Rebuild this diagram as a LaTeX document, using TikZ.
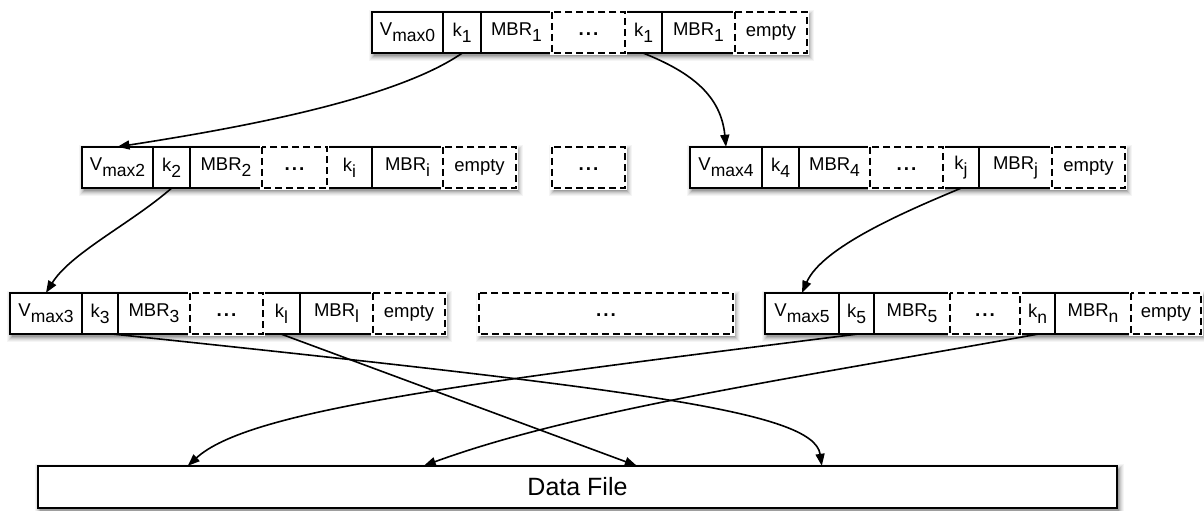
\documentclass[tikz,border=0pt]{standalone}
\usepackage{fontspec}
\setmainfont{Liberation Sans}
\usetikzlibrary{arrows.meta,calc,backgrounds}

% lowered subscript, set in text font
\newcommand{\sbs}[1]{\raisebox{-6pt}{\fontsize{17.5}{17.5}\selectfont #1}}
% placeholder for omitted fields, sitting on the same baseline as the labels
\newcommand{\gap}{{\vphantom{M\sbs{1}}\fontsize{19}{19}\selectfont\bfseries .\kern2pt.\kern2pt.}}

\tikzset{
  x=1pt, y=-1pt,
  cell/.style={inner sep=0pt, minimum height=41pt, fill=white,
               font=\fontsize{18.5}{18.5}\selectfont},
  boxline/.style={draw=black, line width=1.6pt},
  dashpat/.style={dash pattern=on 7pt off 4pt},
  conn/.style={line width=1.6pt, -{Triangle[length=12pt,width=9pt]}},
}

% one cell of a node record: name, left x, right x, top y, text
\newcommand{\cellat}[5]{%
  \node[cell, minimum width={(#3)-(#2)}] (#1) at ({((#2)+(#3))/2},{(#4)+20.5}) {#5};}
% outlines
\newcommand{\solidcell}[1]{\draw[boxline] (#1.north west) rectangle (#1.south east);}
\newcommand{\dashcell}[1]{%
  \draw[white, line width=2.8pt] (#1.north west) rectangle (#1.south east);
  \draw[boxline, dashpat] (#1.north west) rectangle (#1.south east);}
% soft shadow under a run of cells
\newcommand{\softshadow}[2]{%
  \foreach \spread/\shade in {5/0.04,4/0.05,3/0.06,2/0.08,1/0.1,0/0.13}{%
    \fill[black, opacity=\shade] ($(#1.north west)+(2-\spread,3-\spread)$)
      rectangle ($(#2.south east)+(2+\spread,3+\spread)$);}}

\begin{document}
\begin{tikzpicture}
\useasboundingbox (0,0) rectangle (1204,511);

% ---- root record
\cellat{t0}{372}{443}{12}{V\sbs{max0}}
\cellat{t1}{443}{481}{12}{k\sbs{1}}
\cellat{t2}{481}{552}{12}{MBR\sbs{1}}
\cellat{t3}{552}{625}{12}{\gap}
\cellat{t4}{625}{662}{12}{k\sbs{1}}
\cellat{t5}{662}{735}{12}{MBR\sbs{1}}
\cellat{t6}{735}{807}{12}{empty}

% ---- second level
\cellat{a0}{82}{153}{147}{V\sbs{max2}}
\cellat{a1}{153}{190}{147}{k\sbs{2}}
\cellat{a2}{190}{262}{147}{MBR\sbs{2}}
\cellat{a3}{262}{327}{147}{\gap}
\cellat{a4}{327}{372}{147}{k\sbs{i}}
\cellat{a5}{372}{443}{147}{MBR\sbs{i}}
\cellat{a6}{443}{516}{147}{empty}

\cellat{am}{552}{625}{147}{\gap}

\cellat{b0}{690}{762}{147}{V\sbs{max4}}
\cellat{b1}{762}{799}{147}{k\sbs{4}}
\cellat{b2}{799}{870}{147}{MBR\sbs{4}}
\cellat{b3}{870}{943}{147}{\gap}
\cellat{b4}{943}{979}{147}{k\sbs{j}}
\cellat{b5}{979}{1052}{147}{MBR\sbs{j}}
\cellat{b6}{1052}{1125}{147}{empty}

% ---- third level
\cellat{c0}{10}{82}{293}{V\sbs{max3}}
\cellat{c1}{82}{118}{293}{k\sbs{3}}
\cellat{c2}{118}{190}{293}{MBR\sbs{3}}
\cellat{c3}{190}{263}{293}{\gap}
\cellat{c4}{263}{300}{293}{k\sbs{l}}
\cellat{c5}{300}{373}{293}{MBR\sbs{l}}
\cellat{c6}{373}{445}{293}{empty}

\cellat{cm}{479}{733}{293}{\gap}

\cellat{d0}{765}{839}{293}{V\sbs{max5}}
\cellat{d1}{839}{874}{293}{k\sbs{5}}
\cellat{d2}{874}{950}{293}{MBR\sbs{5}}
\cellat{d3}{950}{1020}{293}{\gap}
\cellat{d4}{1020}{1055}{293}{k\sbs{n}}
\cellat{d5}{1055}{1131}{293}{MBR\sbs{n}}
\cellat{d6}{1131}{1201}{293}{empty}

% ---- data file
\node[cell, minimum width=1079pt, minimum height=42pt,
      font=\fontsize{25}{25}\selectfont] (data) at (577.5,487) {Data File};

% shadows behind everything
\begin{scope}[on background layer]
  \softshadow{t0}{t6}
  \softshadow{a0}{a6}
  \softshadow{am}{am}
  \softshadow{b0}{b6}
  \softshadow{c0}{c6}
  \softshadow{cm}{cm}
  \softshadow{d0}{d6}
  \softshadow{data}{data}
\end{scope}

% outlines: solid fields first, dashed (unused) fields on top
\foreach \r in {t,a,b,c,d}{
  \foreach \i in {0,1,2,4,5}{\solidcell{\r\i}}
}
\foreach \r in {t,a,b,c,d}{
  \foreach \i in {3,6}{\dashcell{\r\i}}
}
\dashcell{am}
\dashcell{cm}
\solidcell{data}

% pointers between levels
\draw[conn] (t1.south) .. controls +(-65,45) and +(130,-20) .. (a0.north);
\draw[conn] (t4.south) .. controls +(50,20) and +(-5,-50) .. (b0.north);
\draw[conn] (a1.south) .. controls +(-40,35) and +(25,-40) .. (c0.north);
\draw[conn] (b4.south) .. controls +(-60,25) and +(20,-45) .. (d0.north);

% pointers into the data file
\coordinate (c1out) at ($(c1.south east)+(-4,0)$);
\coordinate (p1) at ($(data.north west)+(150,0)$);
\coordinate (p2) at ($(data.north west)+(386,0)$);
\coordinate (p3) at ($(data.north west)+(599,0)$);
\coordinate (p4) at ($(data.north west)+(784,0)$);

\draw[conn] (c1out) .. controls +(520,55) and +(-8,-55) .. (p4);
\draw[conn] (c4.south) -- (p3);
\draw[conn] (d1.south) .. controls +(-400,50) and +(60,-55) .. (p1);
\draw[conn] (d4.south) .. controls +(-250,45) and +(150,-55) .. (p2);
\end{tikzpicture}
\end{document}
